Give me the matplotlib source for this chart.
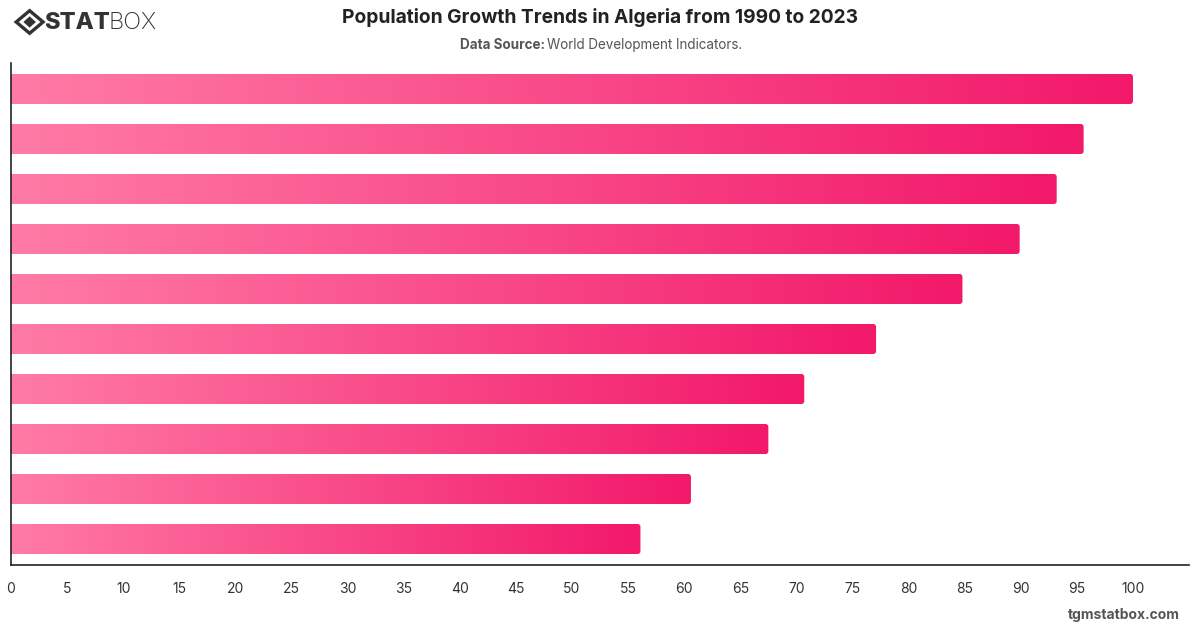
import numpy as np
import matplotlib.pyplot as plt
from matplotlib.patches import FancyBboxPatch, Polygon
from matplotlib.colors import LinearSegmentedColormap

plt.rcParams['font.family'] = ['Inter', 'DejaVu Sans']

years = ['1990', '1995', '2000', '2005', '2010', '2015', '2018', '2020', '2022', '2023']
values = [56.1, 60.6, 67.5, 70.7, 77.1, 84.8, 89.9, 93.2, 95.6, 100.0]
ticks = list(range(0, 101, 5))

cmap = LinearSegmentedColormap.from_list('pink', ['#ff7ba6', '#f2186a'])

fig = plt.figure(figsize=(12, 6.28), dpi=100)
ax = fig.add_axes([0.0092, 0.1003, 0.9817, 0.7994])

grad = np.linspace(0, 1, 256).reshape(1, -1)
h = 0.6
for i, v in enumerate(values):
    # bar with rounded right end, filled by a horizontal gradient
    patch = FancyBboxPatch((-1, i - h / 2), v + 1, h,
                           boxstyle='round,pad=0,rounding_size=0.25',
                           mutation_aspect=0.6 / 2.7,
                           facecolor='none', edgecolor='none')
    ax.add_patch(patch)
    im = ax.imshow(grad, cmap=cmap, aspect='auto',
                   extent=(0, v, i - h / 2, i + h / 2), zorder=2)
    im.set_clip_path(patch)

ax.set_xlim(0, 105)
ax.set_ylim(-0.52, 9.52)
ax.set_yticks([])
ax.set_xticks(ticks)
ax.set_xticklabels([str(t) for t in ticks], fontsize=10, color='#333333')
ax.tick_params(axis='x', length=0, pad=12)
for s in ['top', 'right']:
    ax.spines[s].set_visible(False)
for s in ['left', 'bottom']:
    ax.spines[s].set_color('#222222')
    ax.spines[s].set_linewidth(1.2)

fig.text(0.5, 0.972, 'Population Growth Trends in Algeria from 1990 to 2023',
         ha='center', va='center', fontsize=13.8, fontweight='bold', color='#222222')
fig.text(0.4545, 0.929, 'Data Source:', ha='right', va='center',
         fontsize=9.7, fontweight='bold', color='#555555')
fig.text(0.4555, 0.929, 'World Development Indicators.', ha='left', va='center',
         fontsize=9.7, color='#555555')

# logo
d = Polygon([[0.0135, 0.965], [0.0247, 0.983], [0.0359, 0.965], [0.0247, 0.947]],
            closed=True, transform=fig.transFigure, facecolor='none',
            edgecolor='#333333', linewidth=2.4)
fig.add_artist(d)
d2 = Polygon([[0.0195, 0.965], [0.0247, 0.974], [0.0299, 0.965], [0.0247, 0.956]],
             closed=True, transform=fig.transFigure, facecolor='#333333',
             edgecolor='none')
fig.add_artist(d2)
fig.text(0.0365, 0.964, 'STAT', ha='left', va='center', fontsize=17,
         fontweight='heavy', color='#333333')
fig.text(0.0905, 0.964, 'BOX', ha='left', va='center', fontsize=17,
         fontweight='light', color='#333333')

fig.text(0.983, 0.02, 'tgmstatbox.com', ha='right', va='center',
         fontsize=10, fontweight='bold', color='#555555')

fig.savefig('out.png', dpi=100)
